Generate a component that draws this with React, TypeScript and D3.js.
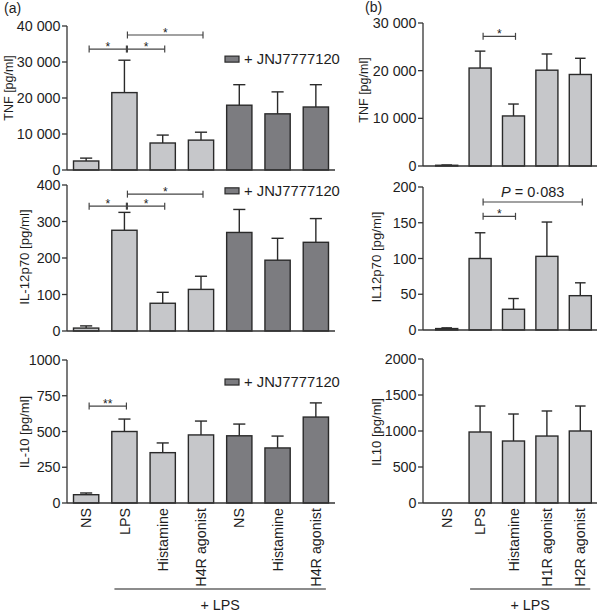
import React from "react";
import * as d3 from "d3";

// ---------- data ----------
const catsA = ["NS", "LPS", "Histamine", "H4R agonist", "NS", "Histamine", "H4R agonist"];
const groupA = ["ctrl", "ctrl", "ctrl", "ctrl", "jnj", "jnj", "jnj"];
const catsB = ["NS", "LPS", "Histamine", "H1R agonist", "H2R agonist"];
const groupB = ["ctrl", "ctrl", "ctrl", "ctrl", "ctrl"];

const tnfA = [2500, 21500, 7500, 8300, 18000, 15600, 17500];
const tnfAErr = [800, 9000, 2200, 2200, 5700, 6100, 6200];
const il12A = [8, 276, 76, 114, 270, 194, 243];
const il12AErr = [6, 49, 30, 36, 63, 60, 65];
const il10A = [58, 500, 352, 476, 470, 385, 601];
const il10AErr = [12, 87, 68, 97, 82, 83, 99];

const tnfB = [150, 20550, 10500, 20100, 19200];
const tnfBErr = [60, 3550, 2500, 3400, 3400];
const il12B = [2, 100, 29, 103, 48];
const il12BErr = [1, 36, 15, 48, 18];
const il10B = [0, 986, 861, 930, 1000];
const il10BErr = [0, 361, 375, 348, 347];

const tnfATicks = [0, 10000, 20000, 30000, 40000];
const tnfATickLabels = ["0", "10 000", "20 000", "30 000", "40 000"];
const il12ATicks = [0, 100, 200, 300, 400];
const il12ATickLabels = ["0", "100", "200", "300", "400"];
const il10ATicks = [0, 250, 500, 750, 1000];
const il10ATickLabels = ["0", "250", "500", "750", "1000"];
const tnfBTicks = [0, 10000, 20000, 30000];
const tnfBTickLabels = ["0", "10 000", "20 000", "30 000"];
const il12BTicks = [0, 50, 100, 150, 200];
const il12BTickLabels = ["0", "50", "100", "150", "200"];
const il10BTicks = [0, 500, 1000, 1500, 2000];
const il10BTickLabels = ["0", "500", "1000", "1500", "2000"];

type Bracket = { from: number; to: number; y: number; label: string };
const tnfABrackets: Bracket[] = [
  { from: 0, to: 1, y: 33600, label: "*" },
  { from: 1, to: 2, y: 33600, label: "*" },
  { from: 1, to: 3, y: 37500, label: "*" },
];
const il12ABrackets: Bracket[] = [
  { from: 0, to: 1, y: 342, label: "*" },
  { from: 1, to: 2, y: 342, label: "*" },
  { from: 1, to: 3, y: 375, label: "*" },
];
const il10ABrackets: Bracket[] = [{ from: 0, to: 1, y: 678, label: "**" }];
const tnfBBrackets: Bracket[] = [{ from: 1, to: 2, y: 27200, label: "*" }];
const il12BBrackets: Bracket[] = [
  { from: 1, to: 2, y: 159, label: "*" },
  { from: 1, to: 4, y: 179, label: "P = 0·083" },
];

const legendLabel = "+ JNJ7777120";
const lpsLabel = "+ LPS";

// ---------- styles ----------
const FONT = "'Liberation Sans', Arial, Helvetica, sans-serif";
const LIGHT = "#c6c7ca";
const DARK = "#7c7c80";
const STROKE = "#2a2a2a";
const AXIS = "#333";
const TEXT = "#1e1e1e";

type PanelProps = {
  cats: string[];
  groups: string[];
  values: number[];
  errs: number[];
  ticks: number[];
  tickLabels: string[];
  yLabel: string;
  brackets: Bracket[];
  axisX: number;
  xRange: [number, number];
  yRange: [number, number];
  labelPos: [number, number];
  labelSize: number;
  legendY?: number;
  showXLabels?: boolean;
};

function Panel(p: PanelProps) {
  const x = d3.scaleBand<string>().domain(p.cats.map((_, i) => String(i))).range(p.xRange).paddingInner(0.34).paddingOuter(0.17);
  const y = d3.scaleLinear().domain([0, p.ticks[p.ticks.length - 1]]).range(p.yRange);
  const bw = x.bandwidth();
  const cx = (i: number) => (x(String(i)) as number) + bw / 2;
  const cap = bw * 0.24;
  return (
    <g>
      {p.values.map((v, i) => (
        <g key={i}>
          {p.errs[i] > 0 && (
            <g stroke={STROKE} strokeWidth={1.4}>
              <line x1={cx(i)} x2={cx(i)} y1={y(v)} y2={y(v + p.errs[i])} />
              <line x1={cx(i) - cap} x2={cx(i) + cap} y1={y(v + p.errs[i])} y2={y(v + p.errs[i])} />
            </g>
          )}
          <rect
            x={x(String(i))}
            y={y(v)}
            width={bw}
            height={Math.max(0, y(0) - y(v))}
            fill={p.groups[i] === "jnj" ? DARK : LIGHT}
            stroke={STROKE}
            strokeWidth={1.4}
          />
        </g>
      ))}
      <line x1={p.axisX} x2={p.axisX} y1={y(0)} y2={y(p.ticks[p.ticks.length - 1])} stroke={AXIS} strokeWidth={1.3} />
      <line x1={p.axisX} x2={p.xRange[1]} y1={y(0)} y2={y(0)} stroke={AXIS} strokeWidth={1.3} />
      {p.ticks.map((t, i) => (
        <g key={t}>
          <line x1={p.axisX - 5} x2={p.axisX} y1={y(t)} y2={y(t)} stroke={AXIS} strokeWidth={1.3} />
          <text x={p.axisX - 6.5} y={y(t)} dy="0.36em" textAnchor="end" fontSize={14.3} fill={TEXT}>
            {p.tickLabels[i]}
          </text>
        </g>
      ))}
      <text
        transform={`translate(${p.labelPos[0]},${p.labelPos[1]}) rotate(-90)`}
        textAnchor="middle"
        dy="0.35em"
        fontSize={p.labelSize}
        fill={TEXT}
      >
        {p.yLabel}
      </text>
      {p.brackets.map((b, i) => {
        const x1 = cx(b.from) + 3;
        const x2 = cx(b.to) + 2;
        const yy = y(b.y);
        const isP = b.label.startsWith("P");
        return (
          <g key={i}>
            <g stroke="#444" strokeWidth={1.2}>
              <line x1={x1} x2={x2} y1={yy} y2={yy} />
              <line x1={x1} x2={x1} y1={yy - 3.5} y2={yy + 3.5} />
              <line x1={x2} x2={x2} y1={yy - 3.5} y2={yy + 3.5} />
            </g>
            {isP ? (
              <text x={(x1 + x2) / 2} y={yy - 5} textAnchor="middle" fontSize={14.5} fill={TEXT}>
                <tspan fontStyle="italic">P</tspan>
                {b.label.slice(1)}
              </text>
            ) : (
              <text x={(x1 + x2) / 2} y={yy + 1.5} textAnchor="middle" fontSize={12} fill="#222">
                {b.label}
              </text>
            )}
          </g>
        );
      })}
      {p.legendY !== undefined && (
        <g>
          <rect x={225} y={y(p.legendY) - 3} width={14} height={6} fill={DARK} stroke={STROKE} strokeWidth={1.2} />
          <text x={244} y={y(p.legendY)} dy="0.36em" fontSize={14.8} fill={TEXT}>
            {legendLabel}
          </text>
        </g>
      )}
      {p.showXLabels && (
        <g>
          {p.cats.map((c, i) => (
            <text
              key={i}
              transform={`translate(${cx(i)},${y(0) + 5}) rotate(-90)`}
              textAnchor="end"
              dy="0.36em"
              fontSize={14.3}
              fill={TEXT}
            >
              {c}
            </text>
          ))}
          <line x1={cx(1) - 10} x2={cx(p.cats.length - 1) + 10} y1={589} y2={589} stroke="#666" strokeWidth={1.5} />
          <text x={(cx(1) - 10 + cx(p.cats.length - 1) + 10) / 2} y={610} textAnchor="middle" fontSize={14.3} fill={TEXT}>
            {lpsLabel}
          </text>
        </g>
      )}
    </g>
  );
}

export default function App() {
  return (
    <svg
      width={600}
      height={616}
      viewBox="0 0 600 616"
      style={{ position: "absolute", left: 0, top: 0, background: "#fff", fontFamily: FONT }}
    >
      <rect width={600} height={616} fill="#fff" />
      <text x={4} y={13} fontSize={14} fill={TEXT}>(a)</text>
      <text x={365} y={12} fontSize={14} fill={TEXT}>(b)</text>

      <Panel cats={catsA} groups={groupA} values={tnfA} errs={tnfAErr} ticks={tnfATicks} tickLabels={tnfATickLabels}
        yLabel="TNF [pg/ml]" brackets={tnfABrackets} axisX={67} xRange={[67, 335]} yRange={[170, 26]}
        labelPos={[9, 88]} labelSize={12.5} legendY={30800} />
      <Panel cats={catsA} groups={groupA} values={il12A} errs={il12AErr} ticks={il12ATicks} tickLabels={il12ATickLabels}
        yLabel="IL-12p70 [pg/ml]" brackets={il12ABrackets} axisX={67} xRange={[67, 335]} yRange={[331, 185]}
        labelPos={[24, 257]} labelSize={13.2} legendY={384} />
      <Panel cats={catsA} groups={groupA} values={il10A} errs={il10AErr} ticks={il10ATicks} tickLabels={il10ATickLabels}
        yLabel="IL-10 [pg/ml]" brackets={il10ABrackets} axisX={67} xRange={[67, 335]} yRange={[503, 360]}
        labelPos={[24, 432]} labelSize={13} legendY={846} showXLabels />

      <Panel cats={catsB} groups={groupB} values={tnfB} errs={tnfBErr} ticks={tnfBTicks} tickLabels={tnfBTickLabels}
        yLabel="TNF [pg/ml]" brackets={tnfBBrackets} axisX={423} xRange={[430, 597]} yRange={[166, 23]}
        labelPos={[364, 90]} labelSize={12.5} />
      <Panel cats={catsB} groups={groupB} values={il12B} errs={il12BErr} ticks={il12BTicks} tickLabels={il12BTickLabels}
        yLabel="IL12p70 [pg/ml]" brackets={il12BBrackets} axisX={423} xRange={[430, 597]} yRange={[330, 187]}
        labelPos={[376, 257]} labelSize={13.2} />
      <Panel cats={catsB} groups={groupB} values={il10B} errs={il10BErr} ticks={il10BTicks} tickLabels={il10BTickLabels}
        yLabel="IL10 [pg/ml]" brackets={[]} axisX={423} xRange={[430, 597]} yRange={[503, 359]}
        labelPos={[376, 432]} labelSize={13} showXLabels />
    </svg>
  );
}
